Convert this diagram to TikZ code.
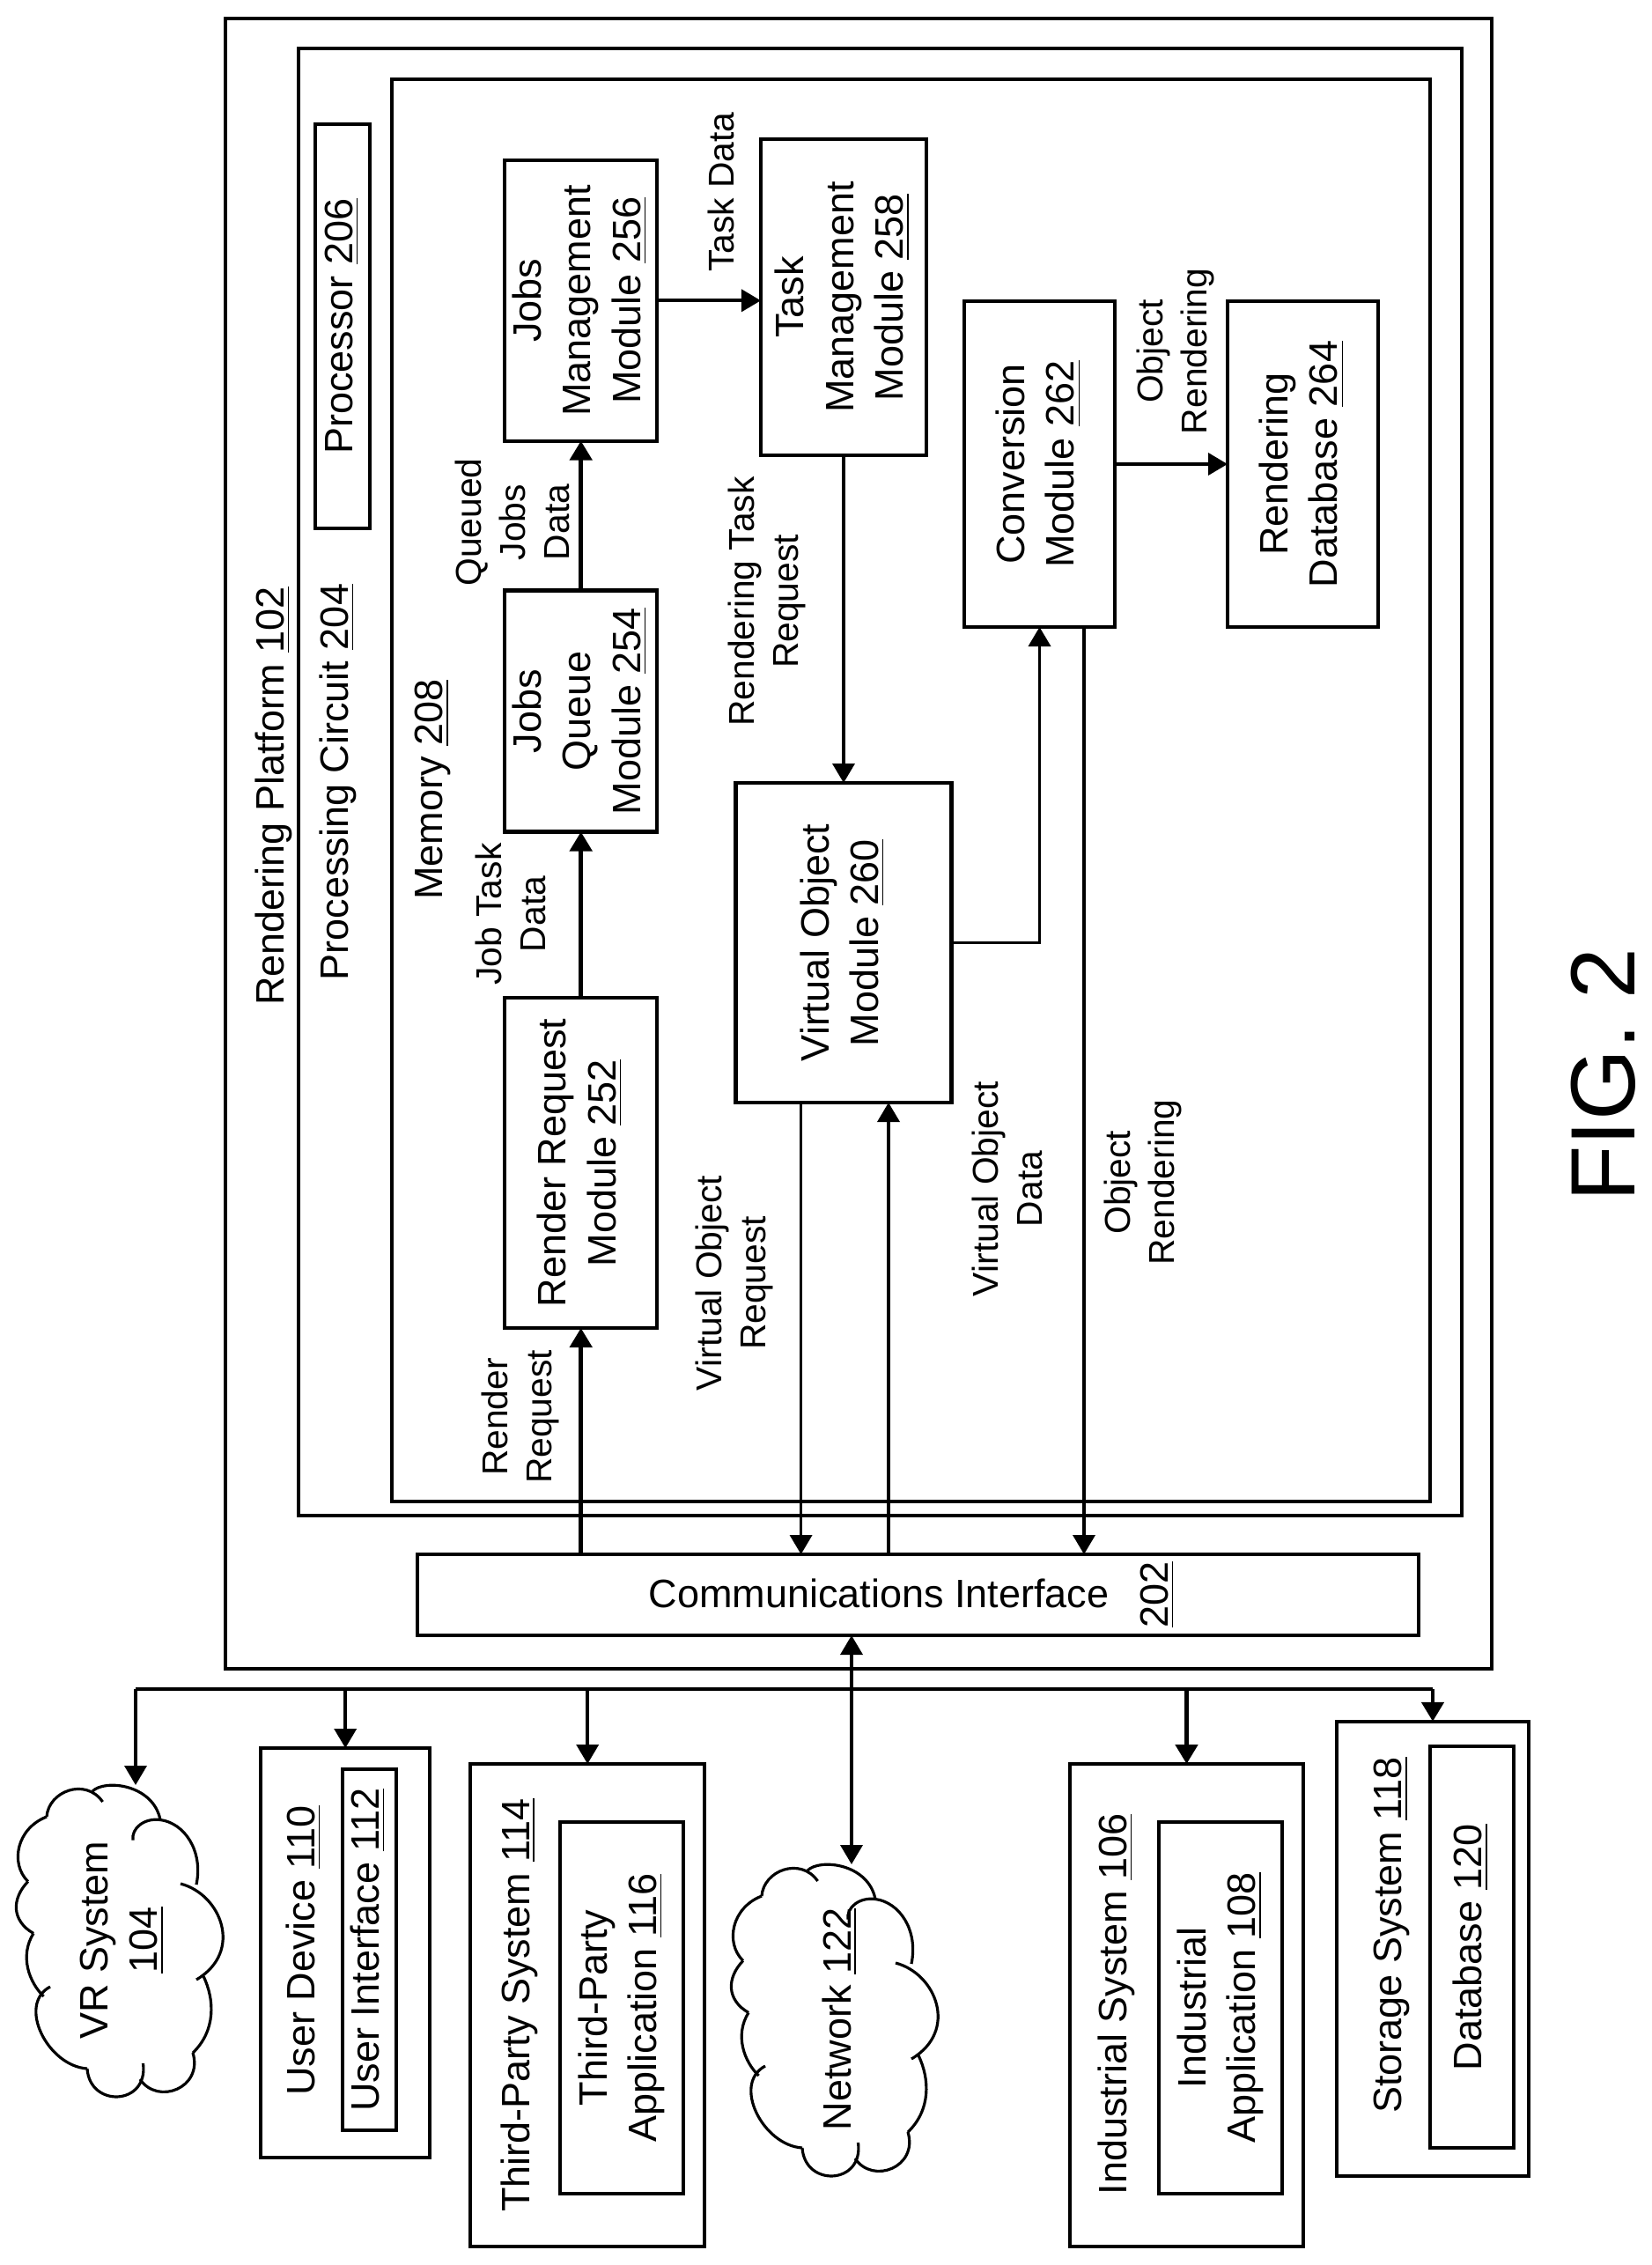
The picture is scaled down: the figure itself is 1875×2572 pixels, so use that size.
\documentclass[tikz,border=0pt]{standalone}
\usepackage{fontspec}
\usepackage{graphicx}
\setmainfont{Liberation Sans}
\usetikzlibrary{arrows.meta}

\newcommand{\vlabel}[1]{\rotatebox{90}{\begin{tabular}{@{}c@{}}#1\end{tabular}}}

\tikzset{
  box/.style={draw=black, line width=1.15pt, inner sep=0pt, outer sep=0pt, font=\fontsize{12.8}{16}\selectfont},
  boxsize/.style 2 args={minimum width=#1*0.01cm, minimum height=#2*0.01cm},
  vtitle/.style={rotate=90, inner sep=0pt, font=\fontsize{12.8}{16}\selectfont},
  vnote/.style={rotate=90, inner sep=0pt, align=center, font=\fontsize{11.6}{14.2}\selectfont},
  link/.style={line width=1.05pt, -{Triangle[length=0.22cm, width=0.25cm]}},
  biglink/.style={line width=1.4pt, -{Triangle[length=0.22cm, width=0.25cm]}},
  cloudline/.style={line width=0.9pt},
  cloudshape/.pic={
    \draw[cloudline] (34,37) .. controls (36,8) and (78,-8) .. (97.6,20);
    \draw[cloudline] (86,8) .. controls (100,-6) and (155,0) .. (163,40.5);
    \draw[cloudline] (132,63.5) .. controls (130,50) and (145,38) .. (163,40.5) .. controls (190,44) and (212,75) .. (204,114);
    \draw[cloudline] (186,113) .. controls (232,125) and (258,190) .. (204,222);
    \draw[cloudline] (212,218) .. controls (225,245) and (226,280) .. (200,305);
    \draw[cloudline] (200,305) .. controls (212,345) and (160,365) .. (140,335);
    \draw[cloudline] (143.5,317) .. controls (150,365) and (83,368) .. (80,323);
    \draw[cloudline] (80,323) .. controls (35,320) and (0,250) .. (38,230);
    \draw[cloudline] (30.6,241) .. controls (14,225) and (3,195) .. (19,169.4);
    \draw[cloudline] (19,169.4) .. controls (-6,155) and (-6,130) .. (12.8,110.5);
    \draw[cloudline] (12.8,110.5) .. controls (-8,90) and (0,50) .. (34,37);
  }
}

\begin{document}
\begin{tikzpicture}[x=0.01cm, y=-0.01cm]
\useasboundingbox (0,0) rectangle (1875,2572);

%% containers
\node[box, boxsize={1438}{1874}] (platform) at (975,958) {};
\node[box, boxsize={1321}{1666}] (circuit) at (999.5,888) {};
\node[box, boxsize={1179}{1615}] (memory) at (1034.5,897.5) {};
\node[box, boxsize={1137}{92}] (comm) at (1042.5,1811) {};

%% container titles
\node[vtitle, anchor=base] (platformtxt) at (322,904) {Rendering Platform \underline{102}};
\node[vtitle, anchor=base] (circuittxt) at (395,888) {Processing Circuit \underline{204}};
\node[vtitle, anchor=base] (memorytxt) at (502.6,896.6) {Memory \underline{208}};
\node[box, draw=none, anchor=center] (commtxt) at (998,1809) {Communications Interface};
\node[vtitle, anchor=base] (commnum) at (1326,1810.5) {\underline{202}};

%% modules
\node[box, boxsize={62}{459}] (processor) at (389,370.5) {\vlabel{Processor \underline{206}}};
\node[box, boxsize={173.5}{318.6}] (jobsmgmt) at (659.7,341.3) {\vlabel{Jobs\\Management\\Module \underline{256}}};
\node[box, boxsize={188}{359}] (taskmgmt) at (958,337.5) {\vlabel{Task\\Management\\Module \underline{258}}};
\node[box, boxsize={171}{370}] (conversion) at (1180.5,527) {\vlabel{Conversion\\Module \underline{262}}};
\node[box, boxsize={171}{370}] (renderdb) at (1479.5,527) {\vlabel{Rendering\\Database \underline{264}}};
\node[box, boxsize={173.5}{274}] (jobsqueue) at (659.7,807.5) {\vlabel{Jobs\\Queue\\Module \underline{254}}};
\node[box, boxsize={173.5}{375}] (renderreq) at (659.7,1320.5) {\vlabel{Render Request\\Module \underline{252}}};
\node[box, boxsize={245}{363}] (virtualobj) at (958,1070.5) {\vlabel{Virtual Object\\Module \underline{260}}};

%% outside systems
\node[box, boxsize={191.5}{465}] (userdev) at (392.2,2217.5) {};
\node[vtitle, anchor=base] (userdevtxt) at (357,2215) {User Device \underline{110}};
\node[box, boxsize={61}{410}] (userif) at (419.5,2214) {\vlabel{User Interface \underline{112}}};
\node[box, boxsize={265.5}{548}] (thirdsys) at (667.2,2277) {};
\node[vtitle, anchor=base] (thirdsystxt) at (601,2277) {Third-Party System \underline{114}};
\node[box, boxsize={140}{422}] (thirdapp) at (706,2280) {\vlabel{Third-Party\\Application \underline{116}}};
\node[box, boxsize={265}{548}] (indsys) at (1347.5,2277) {};
\node[vtitle, anchor=base] (indsystxt) at (1279,2276) {Industrial System \underline{106}};
\node[box, boxsize={140.5}{422}] (indapp) at (1386.2,2280) {\vlabel{Industrial\\Application \underline{108}}};
\node[box, boxsize={218}{516.5}] (storage) at (1627,2213) {};
\node[vtitle, anchor=base] (storagetxt) at (1591.5,2197.6) {Storage System \underline{118}};
\node[box, boxsize={95}{455.5}] (database) at (1671.5,2211) {\vlabel{Database \underline{120}}};

%% clouds
\pic at (19,2026) {cloudshape};
\pic at (831,2116) {cloudshape};
\node[vtitle, align=center] (vrtxt) at (138.6,2203) {VR System\\\underline{104}};
\node[vtitle, anchor=base] (nettxt) at (966,2293) {Network \underline{122}};
\coordinate (vrtop) at (154,2027);
\coordinate (nettop) at (967,2117);

%% arrow labels
\node[vnote] (taskdata) at (819,218) {Task Data};
\node[vnote] (queuedata) at (582,593) {Queued\\Jobs\\Data};
\node[vnote] (renderingtask) at (870.6,683) {Rendering Task\\Request};
\node[vnote] (jobtask) at (579.5,1038) {Job Task\\Data};
\node[vnote] (renderreqtxt) at (591,1609) {Render\\Request};
\node[vnote] (voreqtxt) at (834,1457) {Virtual Object\\Request};
\node[vnote] (vodatatxt) at (1144,1350) {Virtual Object\\Data};
\node[vnote] (objrendlow) at (1298,1342.6) {Object\\Rendering};
\node[vnote] (objrendup) at (1335,399) {Object\\Rendering};

%% figure label
\node[rotate=90, inner sep=0pt, anchor=base, font=\fontsize{29.5}{32}\selectfont] (figlabel) at (1856.6,1220.5) {FIG. 2};

%% edges inside memory
\coordinate (voout) at (909.6,1252);
\coordinate (voin) at (1009,1252);
\coordinate (convout) at (1231,712);
\draw[biglink] (comm.north -| renderreq.south) -- (renderreq.south);
\draw[biglink] (renderreq.north) -- (jobsqueue.south);
\draw[biglink] (jobsqueue.north) -- (jobsmgmt.south);
\draw[link] (jobsmgmt.east) -- (jobsmgmt.east -| taskmgmt.west);
\draw[link] (taskmgmt.south) -- (virtualobj.north);
\draw[link] (voout) -- (comm.north -| voout);
\draw[link] (comm.north -| voin) -- (voin);
\draw[link] (virtualobj.east) -| (conversion.south);
\draw[link] (convout) -- (comm.north -| convout);
\draw[link] (conversion.east) -- (renderdb.west);

%% bus
\coordinate (busleft) at (154,1918);
\coordinate (busright) at (1627,1918);
\draw[line width=1.05pt] (busleft) -- (busright);
\draw[link] (busleft) -- (vrtop);
\draw[link] (busleft -| userdev.north) -- (userdev.north);
\draw[link] (busleft -| thirdsys.north) -- (thirdsys.north);
\draw[biglink] (busleft -| indsys.north) -- (indsys.north);
\draw[biglink] (busright) -- (storage.north);
\draw[line width=1.05pt, {Triangle[length=0.22cm, width=0.25cm]}-{Triangle[length=0.22cm, width=0.25cm]}] (comm.south -| nettop) -- (nettop);

\end{tikzpicture}
\end{document}
